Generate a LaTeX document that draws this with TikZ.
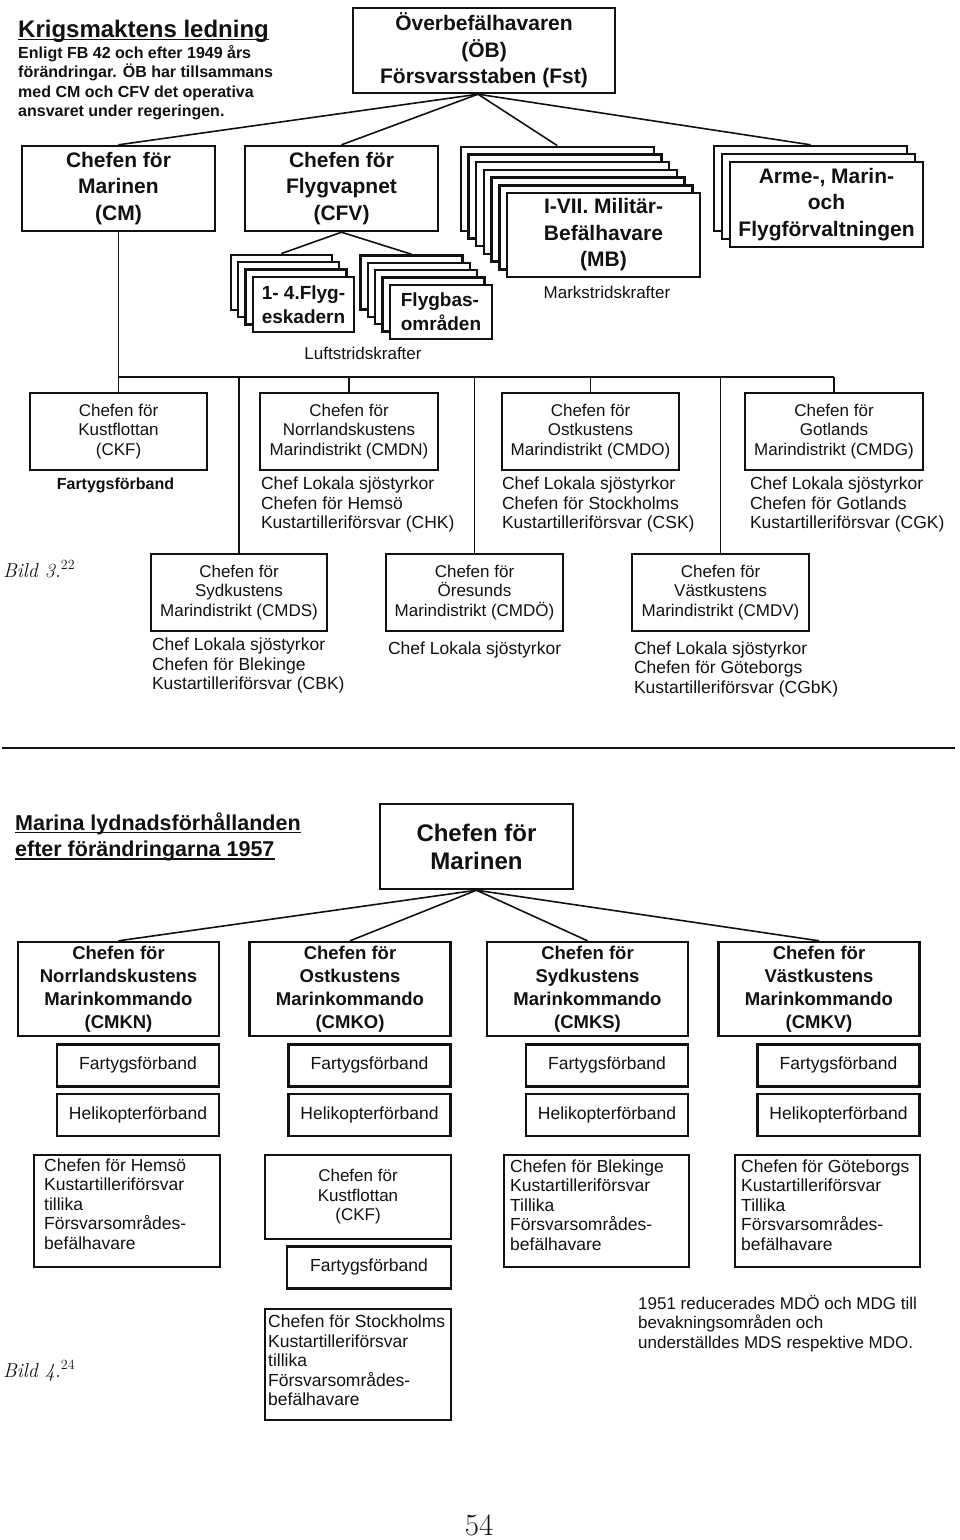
\documentclass[tikz,border=0pt]{standalone}
\usepackage{fontspec}
\newfontfamily\arialfont{Liberation Sans}
\usetikzlibrary{calc}
\definecolor{Ink}{HTML}{111111}
\tikzset{
    bigbox/.style={rectangle, draw=Ink, line width=2.4pt, fill=white, inner sep=0pt, align=center, text=Ink, font=\arialfont\bfseries\fontsize{21}{26.5}\selectfont},
    grenbox/.style={bigbox, minimum width=193pt, minimum height=85pt},
    backbox/.style={draw=Ink, line width=2.4pt, fill=white},
    flybox/.style={rectangle, draw=Ink, line width=2.4pt, fill=white, inner sep=0pt, align=left, minimum width=101pt, minimum height=55pt, text=Ink, font=\arialfont\bfseries\fontsize{19}{24}\selectfont},
    distbox/.style={rectangle, draw=Ink, line width=2.4pt, fill=white, inner sep=0pt, align=center, minimum width=177pt, minimum height=77pt, text=Ink, font=\arialfont\fontsize{17}{19.5}\selectfont},
    kombox/.style={rectangle, draw=Ink, line width=2.4pt, fill=white, inner sep=0pt, align=center, minimum width=201pt, minimum height=94pt, text=Ink, font=\arialfont\bfseries\fontsize{18.5}{23}\selectfont},
    unitbox/.style={rectangle, draw=Ink, line width=2.4pt, fill=white, inner sep=0pt, minimum width=162pt, minimum height=42pt, text=Ink, font=\arialfont\fontsize{17.5}{20}\selectfont},
    kabox/.style={rectangle, draw=Ink, line width=2.4pt, fill=white, inner sep=0pt, minimum width=186pt, minimum height=112pt, anchor=north west},
    katext/.style={inner sep=0pt, align=left, anchor=north west, text=Ink, font=\arialfont\fontsize{17.5}{19.5}\selectfont},
    sublabel/.style={inner sep=0pt, align=left, anchor=north west, text=Ink, font=\arialfont\fontsize{17.5}{19.5}\selectfont},
    armlabel/.style={inner sep=0pt, text=Ink, font=\arialfont\fontsize{17}{20}\selectfont},
    titletext/.style={inner sep=0pt, text=Ink, font=\arialfont\bfseries\fontsize{24}{28}\selectfont},
    introtext/.style={inner sep=0pt, align=left, text=Ink, font=\arialfont\bfseries\fontsize{16}{19.5}\selectfont},
    bildtext/.style={inner sep=0pt, text=Ink, font=\itshape\fontsize{20}{24}\selectfont},
    link/.style={draw=Ink, line width=1.6pt},
    uline/.style={draw=Ink, line width=1.4pt},
}

\begin{document}
\begin{tikzpicture}[x=1pt, y=-1pt]
    \useasboundingbox (0,0) rectangle (960,1540);

    % Krigsmaktens ledning
    \node[titletext, anchor=base west] (krig) at (18,37) {Krigsmaktens ledning};
    \draw[uline] ([yshift=-2.5pt]krig.base west) -- ([yshift=-2.5pt]krig.base east);
    \node[introtext, anchor=north west] (krigtxt) at (18,45) {Enligt FB 42 och efter 1949 års\\förändringar. ÖB har tillsammans\\med CM och CFV det operativa\\ansvaret under regeringen.};

    % OB och forsvarsgrenarna
    \node[bigbox, minimum width=262pt, minimum height=85pt] (ob) at (484,50.5) {Överbefälhavaren\\(ÖB)\\Försvarsstaben (Fst)};
    \coordinate (obfoot) at ($(ob.south)+(-6,0)$);
    \node[grenbox] (cm) at (118.5,188.5) {Chefen för\\Marinen\\(CM)};
    \node[grenbox] (cfv) at (341.5,188.5) {Chefen för\\Flygvapnet\\(CFV)};

    % Militarbefalhavare I-VII
    \foreach \k in {6,5,...,1}
        \draw[backbox] (507-7.7*\k, 193-7.7*\k) rectangle +(193,84);
    \node[grenbox, minimum height=84pt] (mb) at (603.5,235) {I-VII. Militär-\\Befälhavare\\(MB)};
    \node[armlabel] (mark) at (607,292) {Markstridskrafter};

    % Forvaltningarna
    \foreach \k in {2,1}
        \draw[backbox] (730-8*\k, 162-8*\k) rectangle +(193,85);
    \node[grenbox] (arme) at (826.5,204.5) {Arme-, Marin-\\och\\Flygförvaltningen};

    % Flygvapnets enheter
    \foreach \k in {3,2,1}
        \draw[backbox] (253-7.4*\k, 277-7.4*\k) rectangle +(101,55);
    \node[flybox] (esk) at (303.5,304.5) {1- 4.Flyg-\\eskadern};
    \foreach \k in {4,3,2,1}
        \draw[backbox] (390-7.4*\k, 285-7.4*\k) rectangle +(102,54);
    \node[flybox, minimum width=102pt, minimum height=54pt] (bas) at (441,312) {Flygbas-\\områden};
    \node[armlabel] (luft) at (363,353) {Luftstridskrafter};

    \draw[link] (obfoot) -- (cm.north);
    \draw[link] (obfoot) -- (cfv.north);
    \draw[link] (obfoot) -- ($(mb.north)+(-46.2,-46.2)$);
    \draw[link] (obfoot) -- ($(arme.north)+(-16,-16)$);
    \draw[link] (cfv.south) -- ($(esk.north)+(-22.2,-22.2)$);
    \draw[link] (cfv.south) -- ($(bas.north)+(-29.6,-29.6)$);

    % Marindistrikten
    \node[distbox] (ckf) at (118.5,431.5) {Chefen för\\Kustflottan\\(CKF)};
    \node[distbox, minimum width=178pt] (cmdn) at (349,431.5) {Chefen för\\Norrlandskustens\\Marindistrikt (CMDN)};
    \node[distbox] (cmdo) at (590.5,431.5) {Chefen för\\Ostkustens\\Marindistrikt (CMDO)};
    \node[distbox, minimum width=178pt] (cmdg) at (834,431.5) {Chefen för\\Gotlands\\Marindistrikt (CMDG)};
    \node[distbox, minimum width=176pt] (cmds) at (239,592.5) {Chefen för\\Sydkustens\\Marindistrikt (CMDS)};
    \node[distbox] (cmdoe) at (474.5,592.5) {Chefen för\\Öresunds\\Marindistrikt (CMDÖ)};
    \node[distbox] (cmdv) at (720.5,592.5) {Chefen för\\Västkustens\\Marindistrikt (CMDV)};

    \coordinate (busw) at (118.5,377);
    \coordinate (buse) at (834,377);
    \draw[link] (cm.south) -- (ckf.north);
    \draw[link] (busw) -- (buse);
    \foreach \n in {cmds,cmdn,cmdoe,cmdo,cmdv,cmdg}
        \draw[link] (busw -| \n.north) -- (\n.north);

    \node[inner sep=0pt, anchor=north, text=Ink, font=\arialfont\bfseries\fontsize{16}{19}\selectfont] (ckfunit) at ([shift={(-3,6.5)}]ckf.south) {Fartygsförband};
    \node[sublabel] (cmdnsub) at ([shift={(2,5.5)}]cmdn.south west) {Chef Lokala sjöstyrkor\\Chefen för Hemsö\\Kustartilleriförsvar (CHK)};
    \node[sublabel] (cmdosub) at ([shift={(1,5.5)}]cmdo.south west) {Chef Lokala sjöstyrkor\\Chefen för Stockholms\\Kustartilleriförsvar (CSK)};
    \node[sublabel] (cmdgsub) at ([shift={(6,5.5)}]cmdg.south west) {Chef Lokala sjöstyrkor\\Chefen för Gotlands\\Kustartilleriförsvar (CGK)};
    \node[sublabel] (cmdssub) at ([shift={(2,5.5)}]cmds.south west) {Chef Lokala sjöstyrkor\\Chefen för Blekinge\\Kustartilleriförsvar (CBK)};
    \node[sublabel] (cmdoesub) at ([shift={(3,9)}]cmdoe.south west) {Chef Lokala sjöstyrkor};
    \node[sublabel] (cmdvsub) at ([shift={(3,9)}]cmdv.south west) {Chef Lokala sjöstyrkor\\Chefen för Göteborgs\\Kustartilleriförsvar (CGbK)};

    \node[bildtext, anchor=base west] (bild3) at (3,577) {Bild 3.\textsuperscript{\upshape 22}};

    % Skiljelinje
    \draw[draw=Ink, line width=2pt] (2,748) -- (955,748);

    % Marina lydnadsforhallanden 1957
    \node[titletext, font=\arialfont\bfseries\fontsize{21.5}{27}\selectfont, anchor=base west] (mar1) at (15,830) {Marina lydnadsförhållanden};
    \node[titletext, font=\arialfont\bfseries\fontsize{21.5}{27}\selectfont, anchor=base west] (mar2) at (15,856.5) {efter förändringarna 1957};
    \draw[uline] ([yshift=-2.3pt]mar1.base west) -- ([yshift=-2.3pt]mar1.base east);
    \draw[uline] ([yshift=-2.3pt]mar2.base west) -- ([yshift=-2.3pt]mar2.base east);

    \node[grenbox, font=\arialfont\bfseries\fontsize{24}{28}\selectfont] (cmm) at (476.5,846.5) {Chefen för\\Marinen};

    \node[kombox] (cmkn) at (118.5,989) {Chefen för\\Norrlandskustens\\Marinkommando\\(CMKN)};
    \node[kombox] (cmko) at (350,989) {Chefen för\\Ostkustens\\Marinkommando\\(CMKO)};
    \node[kombox] (cmks) at (587.5,989) {Chefen för\\Sydkustens\\Marinkommando\\(CMKS)};
    \node[kombox] (cmkv) at (819,989) {Chefen för\\Västkustens\\Marinkommando\\(CMKV)};

    \foreach \n in {cmkn,cmko,cmks,cmkv} {
        \draw[link] (cmm.south) -- (\n.north);
        \node[unitbox, anchor=north east] (\n-f) at ([yshift=-6pt]\n.south east) {Fartygsförband};
        \node[unitbox, anchor=north east] (\n-h) at ([yshift=-5pt]\n-f.south east) {Helikopterförband};
    }

    % Kustartilleriforsvar och kustflottan
    \node[distbox, minimum width=186pt, minimum height=84pt] (ckf2) at (358,1197) {Chefen för\\Kustflottan\\(CKF)};
    \node[unitbox, minimum width=164pt, anchor=north east] (ckf2-f) at ([yshift=-5pt]ckf2.south east) {Fartygsförband};

    \node[kabox] (hemso) at (33,1154) {};
    \node[katext] (hemsotxt) at ([shift={(11,4.5)}]hemso.north west) {Chefen för Hemsö\\Kustartilleriförsvar\\tillika\\Försvarsområdes-\\befälhavare};
    \node[kabox, minimum height=111pt] (sthlm) at (264,1308) {};
    \node[katext] (sthlmtxt) at ([shift={(4,7)}]sthlm.north west) {Chefen för Stockholms\\Kustartilleriförsvar\\tillika\\Försvarsområdes-\\befälhavare};
    \node[kabox, minimum width=185pt] (blek) at (503,1154) {};
    \node[katext] (blektxt) at ([shift={(7,5.5)}]blek.north west) {Chefen för Blekinge\\Kustartilleriförsvar\\Tillika\\Försvarsområdes-\\befälhavare};
    \node[kabox, minimum width=185pt] (gbg) at (734,1154) {};
    \node[katext] (gbgtxt) at ([shift={(7,5.5)}]gbg.north west) {Chefen för Göteborgs\\Kustartilleriförsvar\\Tillika\\Försvarsområdes-\\befälhavare};

    \node[sublabel, font=\arialfont\fontsize{17}{19.5}\selectfont] (note) at (638,1295) {1951 reducerades MDÖ och MDG till\\bevakningsområden och\\underställdes MDS respektive MDO.};

    \node[bildtext, anchor=base west] (bild4) at (3,1377) {Bild 4.\textsuperscript{\upshape 24}};

    % Sidnummer
    \node[inner sep=0pt, text=Ink, font=\fontsize{31}{36}\selectfont, anchor=base] (page) at (479,1535) {54};
\end{tikzpicture}
\end{document}
